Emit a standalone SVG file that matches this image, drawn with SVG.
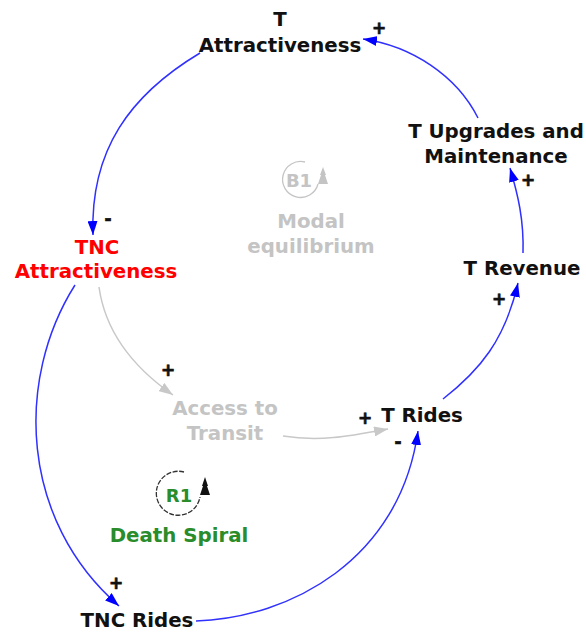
<svg xmlns="http://www.w3.org/2000/svg" width="586" height="633" viewBox="0 0 586 633">
  <style>
    .lbl { font-family: "DejaVu Sans", Verdana, sans-serif; font-weight: bold; font-size: 19.8px; text-anchor: middle; }
    .black { fill: #111111; }
    .red { fill: #ff0000; }
    .grey { fill: #c4c4c4; }
    .green { fill: #2a8c2a; }
    .sign { font-family: "DejaVu Sans", Verdana, sans-serif; font-weight: bold; font-size: 17px; text-anchor: middle; fill: #111111; stroke: #111111; stroke-width: 0.7; }
    .link { fill: none; stroke: #3030ff; stroke-width: 1.5; }
    .link-grey { fill: none; stroke: #c8c8c8; stroke-width: 1.5; }
  </style>
  <defs>
    <marker id="arrowBlue" viewBox="0 0 14 10" refX="14" refY="5" markerWidth="14" markerHeight="10" markerUnits="userSpaceOnUse" orient="auto">
      <path d="M0,0 L14,5 L0,10 Z" fill="#0000ff"/>
    </marker>
    <marker id="arrowGrey" viewBox="0 0 14 10" refX="14" refY="5" markerWidth="14" markerHeight="10" markerUnits="userSpaceOnUse" orient="auto">
      <path d="M0,0 L14,5 L0,10 Z" fill="#c8c8c8"/>
    </marker>
  </defs>

  <rect width="586" height="633" fill="#ffffff"/>

  <!-- causal links -->
  <g id="connectors">
    <path class="link" d="M478,118 C457,76 412,46 363,39" marker-end="url(#arrowBlue)"/>
    <path class="link" d="M200,53 C130,95 90,150 93,235" marker-end="url(#arrowBlue)"/>
    <path class="link" d="M75,285 C15,380 20,520 119,606" marker-end="url(#arrowBlue)"/>
    <path class="link" d="M196,621 C290,618 400,560 418,431" marker-end="url(#arrowBlue)"/>
    <path class="link" d="M443,399 C480,370 505,340 518,283" marker-end="url(#arrowBlue)"/>
    <path class="link" d="M523,253 C524,220 518,195 510,168" marker-end="url(#arrowBlue)"/>
    <path class="link-grey" d="M99,287 C105,330 130,365 173,395" marker-end="url(#arrowGrey)"/>
    <path class="link-grey" d="M283,436 C320,442 350,436 388,429" marker-end="url(#arrowGrey)"/>
  </g>

  <!-- polarity signs -->
  <g id="polarities">
    <text class="sign" x="379" y="34">+</text>
    <text class="sign" x="108" y="225">-</text>
    <text class="sign" x="528" y="186">+</text>
    <text class="sign" x="499" y="305">+</text>
    <text class="sign" x="365" y="424">+</text>
    <text class="sign" x="398" y="448">-</text>
    <text class="sign" x="168" y="376">+</text>
    <text class="sign" x="116" y="589">+</text>
  </g>

  <!-- variables -->
  <g id="t-attractiveness">
    <text class="lbl black" x="280" y="26">T</text>
    <text class="lbl black" x="280" y="52">Attractiveness</text>
  </g>
  <g id="t-upgrades">
    <text class="lbl black" x="496" y="138">T Upgrades and</text>
    <text class="lbl black" x="496" y="163">Maintenance</text>
  </g>
  <g id="t-revenue">
    <text class="lbl black" x="522" y="275">T Revenue</text>
  </g>
  <g id="t-rides">
    <text class="lbl black" x="422" y="422">T Rides</text>
  </g>
  <g id="tnc-attractiveness">
    <text class="lbl red" x="97" y="254">TNC</text>
    <text class="lbl red" x="96" y="278">Attractiveness</text>
  </g>
  <g id="access-to-transit">
    <text class="lbl grey" x="225" y="415">Access to</text>
    <text class="lbl grey" x="225" y="440">Transit</text>
  </g>
  <g id="tnc-rides">
    <text class="lbl black" x="137" y="627">TNC Rides</text>
  </g>

  <!-- loop B1 -->
  <g id="loop-b1">
    <path d="M305,162 A18,18 0 1 0 318,184" fill="none" stroke="#c4c4c4" stroke-width="1.3"/>
    <polygon points="323,167 326,175 325,175 328,184 318,184 321,175 320,175" fill="#c4c4c4"/>
    <text class="lbl grey" x="299" y="187" style="font-size:18px">B1</text>
    <text class="lbl grey" x="311" y="228">Modal</text>
    <text class="lbl grey" x="311" y="253">equilibrium</text>
  </g>

  <!-- loop R1 -->
  <g id="loop-r1">
    <path d="M184,472 A22,22 0 1 0 200,497" fill="none" stroke="#333333" stroke-width="1.3" stroke-dasharray="5,1.5"/>
    <polygon points="205,477 208,486 207,486 210,495 200,495 203,486 202,486" fill="#111111"/>
    <text class="lbl green" x="179" y="502" style="font-size:18px">R1</text>
    <text class="lbl green" x="179" y="542">Death Spiral</text>
  </g>
</svg>
